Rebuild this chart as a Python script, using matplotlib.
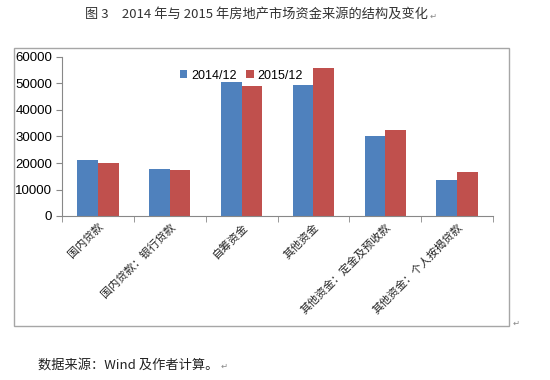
#!/usr/bin/env python3
# -*- coding: utf-8 -*-

import numpy as np
import matplotlib
matplotlib.use('Agg')  # noqa: E402
import matplotlib.pyplot as plt  # noqa: E402
from matplotlib.patches import Rectangle  # noqa: E402

# ====== 数据 ======
categories = ['国内贷款', '国内贷款：银行贷款', '自筹资金', '其他资金',
              '其他资金：定金及预收款', '其他资金：个人按揭贷款']
series_names = ['2014/12', '2015/12']
values_2014 = [21000, 17800, 50400, 49600, 30300, 13400]
values_2015 = [20000, 17400, 48900, 55700, 32400, 16600]
y_ticks = [0, 10000, 20000, 30000, 40000, 50000, 60000]
title_text = '图 3　2014 年与 2015 年房地产市场资金来源的结构及变化'
source_text = '数据来源：Wind 及作者计算。'
# ==================

CJK = ['Noto Sans CJK SC', 'DejaVu Sans']
BLUE = '#4F81BD'
RED = '#C0504D'
W, H = 550, 380

plt.rcParams['font.family'] = CJK
plt.rcParams['axes.unicode_minus'] = False

fig = plt.figure(figsize=(W / 100, H / 100), dpi=100)
fig.patch.set_facecolor('white')

# 外框 (图表区)
fig.patches.append(Rectangle((14 / W, 1 - 326 / H), 495 / W, 278 / H,
                             transform=fig.transFigure, fill=False,
                             edgecolor='#a6a6a6', linewidth=1.0))

ax = fig.add_axes([62 / W, 1 - 216 / H, 431 / W, 159 / H])

x = np.arange(len(categories))
bw = 0.288
ax.bar(x - bw / 2, values_2014, bw, color=BLUE, label=series_names[0])
ax.bar(x + bw / 2, values_2015, bw, color=RED, label=series_names[1])

ax.set_xlim(-0.5, len(categories) - 0.5)
ax.set_ylim(0, 60000)
ax.set_yticks(y_ticks)
ax.set_yticklabels([str(v) for v in y_ticks], family='Liberation Sans', fontsize=9.5)

ax.set_xticks(x)
ax.set_xticklabels(categories, rotation=45, ha='right', va='top',
                   rotation_mode='anchor', fontsize=8, color='#222222')
ax.set_xticks(np.arange(-0.5, len(categories)), minor=True)
ax.tick_params(axis='x', which='major', length=0, pad=4)
ax.tick_params(axis='x', which='minor', length=4, color='#888888')
ax.tick_params(axis='y', length=4, color='#888888', pad=3)

for s in ['top', 'right']:
    ax.spines[s].set_visible(False)
for s in ['left', 'bottom']:
    ax.spines[s].set_color('#888888')
    ax.spines[s].set_linewidth(0.8)

ax.legend(loc='upper center', bbox_to_anchor=(0.416, 0.99), ncol=2,
          frameon=False, handlelength=0.6, handleheight=0.6,
          handletextpad=0.3, columnspacing=0.8,
          prop={'family': 'Liberation Sans', 'size': 9})

# 标题与资料来源
t_title = fig.text(85 / W, 1 - 14 / H, title_text, fontsize=9.5, color='#333333',
                   ha='left', va='center')
t_src = fig.text(38 / W, 1 - 365 / H, source_text, fontsize=9.5, color='#222222',
                 ha='left', va='center')

# 段落标记放在文字后面
renderer = fig.canvas.get_renderer()
for t, yy in [(t_title, 16), (t_src, 366)]:
    bb = t.get_window_extent(renderer)
    fig.text((bb.x1 + 2) / W, 1 - yy / H, '↵', fontsize=6, color='#888888',
             ha='left', va='center', family=['DejaVu Sans'])
fig.text(513 / W, 1 - 323 / H, '↵', fontsize=6, color='#888888',
         ha='left', va='center', family=['DejaVu Sans'])

fig.savefig('out.png', dpi=100)
